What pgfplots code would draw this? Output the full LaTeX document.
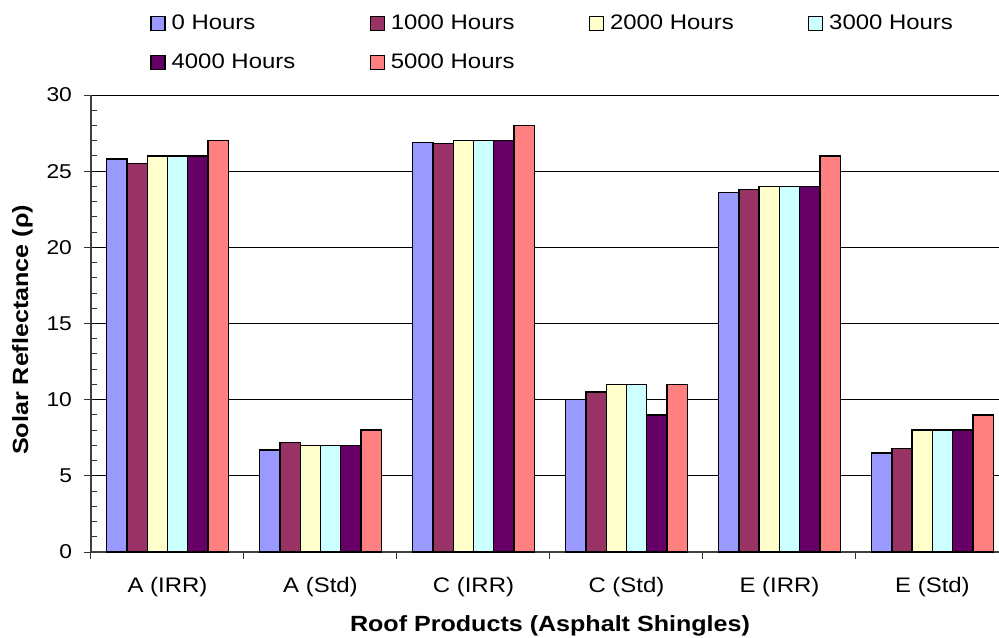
\documentclass[border=0pt]{standalone}
\usepackage{fontspec}
\setmainfont{Liberation Sans}[FakeStretch=1.14]
\usepackage{pgfplots}
\usepackage{pgfplotstable}
\pgfplotsset{compat=1.18}
\definecolor{c1}{HTML}{9999FF}
\definecolor{c2}{HTML}{993366}
\definecolor{c3}{HTML}{FFFFCC}
\definecolor{c4}{HTML}{CCFFFF}
\definecolor{c5}{HTML}{660066}
\definecolor{c6}{HTML}{FF8080}
\pgfplotstableread{
x h0 h1000 h2000 h3000 h4000 h5000
0 25.8 25.5 26 26 26 27
1 6.7 7.2 7.0 7.0 7.0 8
2 26.9 26.8 27 27 27 28
3 10 10.5 11 11 9 11
4 23.6 23.8 24 24 24 26
5 6.5 6.8 8 8 8 9
}\datatable
\begin{document}
\begin{tikzpicture}
\path[use as bounding box] (-45.5pt,-42.5pt) rectangle (454pt,276pt);
\begin{axis}[
  scale only axis, width=454pt, height=228.5pt,
  at={(0,0)}, anchor=south west,
  ybar=0pt, bar width=0.1325,
  xmin=-0.5, xmax=5.435, ymin=0, ymax=30,
  axis x line*=bottom, axis y line*=left,
  axis line style={line width=0.7pt, draw=black!75},
  /pgf/number format/assume math mode=true,
  tick label style={font=\fontsize{10}{12}\selectfont},
  yticklabel style={xshift=-2.5pt},
  ytick={0,5,...,30}, minor y tick num=4,
  tick align=outside, major tick length=3.5pt, minor tick length=3pt,
  minor y tick style={xshift=3pt},
  tick style={black!80, line width=0.5pt},
  ymajorgrids, major grid style={black, line width=0.45pt},
  xtick={-0.5,0.5,1.5,2.5,3.5,4.5}, xticklabels={},
  extra x ticks={0,1,2,3,4,5},
  extra x tick labels={A (IRR),A (Std),C (IRR),C (Std),E (IRR),E (Std)},
  extra x tick style={major tick length=0pt, grid=none, xticklabel style={font=\fontsize{10.5}{12}\selectfont, yshift=-9pt}},
  xlabel={\textbf{Roof Products (Asphalt Shingles)}},
  xlabel style={font=\fontsize{11}{13}\selectfont, at={(axis description cs:0.5055,0)}, anchor=center, yshift=-37pt},
  ylabel={\textbf{Solar Reflectance (ρ)}},
  ylabel style={font=\fontsize{11}{13}\selectfont, at={(axis description cs:-0.0755,0.486)}, anchor=center},
  legend columns=4,
  legend style={draw=none, fill=none, inner sep=0pt, at={(axis description cs:0,1)}, anchor=north west, xshift=29.5pt, yshift=41pt,
    font=\fontsize{10.5}{12}\selectfont, row sep=9.75pt,
    nodes={inner xsep=3pt, inner ysep=0pt, text height=8pt, text depth=2pt}},
  legend image code/.code={\draw[#1, line width=0.6pt] (0pt,-3.5pt) rectangle (7pt,3.5pt);},
  every axis plot/.append style={draw=black, line width=0.7pt},
]
\addplot[fill=c1] table[x=x,y=h0] {\datatable};
\addplot[fill=c2] table[x=x,y=h1000] {\datatable};
\addplot[fill=c3] table[x=x,y=h2000] {\datatable};
\addplot[fill=c4] table[x=x,y=h3000] {\datatable};
\addplot[fill=c5] table[x=x,y=h4000] {\datatable};
\addplot[fill=c6] table[x=x,y=h5000] {\datatable};
\legend{\makebox[96pt][l]{0 Hours},\makebox[96pt][l]{1000 Hours},\makebox[96pt][l]{2000 Hours},\makebox[96pt][l]{3000 Hours},\makebox[96pt][l]{4000 Hours},\makebox[96pt][l]{5000 Hours}}
\end{axis}
\end{tikzpicture}
\end{document}
